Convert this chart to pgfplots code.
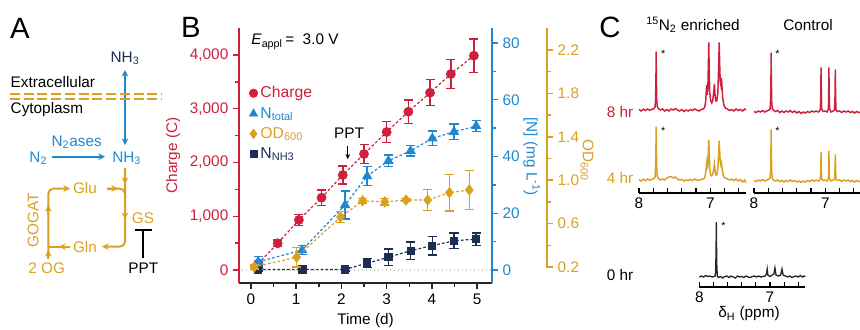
\documentclass[border=0pt]{standalone}
\usepackage{fontspec}
\setmainfont{Liberation Sans}
\usepackage{pgfplots}
\pgfplotsset{compat=1.18}
\usepackage{pgfplotstable}
\usetikzlibrary{arrows.meta}
\definecolor{cred}{HTML}{CE1F3C}
\definecolor{cblue}{HTML}{1E88D0}
\definecolor{corange}{HTML}{DBA020}
\definecolor{cnavy}{HTML}{1E2D52}

\pgfplotstableread{
t v e
0.16 120 40
0.59 497 62
1.06 930 100
1.56 1345 146
2.03 1767 170
2.50 2158 180
3.00 2567 195
3.48 2945 217
3.96 3298 242
4.42 3646 267
4.93 3987 312
}\charge
\pgfplotstableread{
t v e
0.16 2.9 1.8
1.13 7.0 1.6
2.08 22.9 4.9
2.57 33.1 3.3
3.04 38.5 2.0
3.53 42.0 1.8
4.01 46.4 2.6
4.49 48.7 2.7
4.98 50.7 1.9
}\ntotal
\pgfplotstableread{
t v e
0.16 0.2 0.5
1.14 0.2 0.5
2.08 0.2 0.5
2.57 2.4 1.6
3.04 4.5 2.9
3.53 6.8 3.1
4.01 8.6 3.3
4.49 10.3 2.7
4.98 10.9 2.2
}\nnh
\pgfplotstableread{
t v e
0.07 0.20 0.02
1.01 0.29 0.09
1.98 0.66 0.05
2.47 0.81 0.02
2.96 0.80 0.03
3.43 0.817 0.015
3.91 0.817 0.095
4.39 0.885 0.17
4.83 0.91 0.18
}\odsix

\pgfplotsset{
  every tick label/.append style={font=\fontsize{11.5}{13}\selectfont},
  every axis label/.append style={font=\fontsize{11.5}{13}\selectfont},
  spec/.style={scale only axis, width=80.25pt, xmin=6.5, xmax=8, x dir=reverse,
    ymin=0, axis x line*=bottom, axis y line=none,
    axis line style={-, line width=0.9pt},
    xtick={7,8}, minor xtick={6.6,6.8,7.2,7.4,7.6,7.8},
    tick align=inside, major tick length=3.5pt, minor tick length=3.5pt,
    tick style={black, line width=0.9pt}, clip=false,
    /pgf/number format/assume math mode=true},
  ser/.style={forget plot, line width=0.9pt, dash pattern=on 2pt off 1.6pt,
    mark options={solid},
    error bars/.cd, y dir=both, y explicit,
    error bar style={solid, line width=1.1pt},
    error mark options={rotate=90, solid, line width=1.1pt, mark size=3.4pt}},
}

\begin{document}
\begin{tikzpicture}[font=\fontsize{11.5}{13}\selectfont]
\path[use as bounding box] (0,0) rectangle (645pt,-246.75pt);

% ---------- Panel B: charge axis ----------
\begin{axis}[
  at={(179.25pt,-212.25pt)}, anchor=south west,
  scale only axis, width=189.75pt, height=191.25pt,
  xmin=-0.265, xmax=5.33, ymin=-242, ymax=4502,
  axis x line*=bottom, axis y line*=left,
  axis line style={-, line width=1.1pt},
  x axis line style={black!85},
  y axis line style={cred},
  xtick={0,1,2,3,4,5}, minor x tick num=1,
  ytick={0,1000,2000,3000,4000}, minor y tick num=1,
  scaled y ticks=false,
  tick align=outside, major tick length=4.5pt, minor tick length=3pt,
  x tick style={black!85, line width=1.1pt},
  y tick style={cred, line width=1.1pt},
  yticklabel style={cred},
  /pgf/number format/assume math mode=true,
  /pgf/number format/1000 sep={,},
  xlabel={Time (d)}, ylabel={Charge (C)},
  every axis x label/.style={at={(axis description cs:0.5,-0.149)}, anchor=center},
  every axis y label/.style={at={(axis description cs:-0.26,0.5)}, rotate=90, anchor=center, cred},
  legend style={draw=none, fill=none, at={(axis description cs:0.0395,0.782)}, anchor=north west,
    inner sep=0pt, row sep=1.5pt, font=\fontsize{11.8}{13}\selectfont},
  legend cell align=left,
  legend image code/.code={\draw[#1] plot coordinates {(0pt,0pt)};},
  clip=false,
]
\addlegendimage{only marks, mark=*, cred, mark size=3.2pt}
\addlegendentry{\textcolor{cred}{Charge}}
\addlegendimage{only marks, mark=triangle*, cblue, mark size=3.6pt}
\addlegendentry{\textcolor{cblue}{N\textsubscript{total}}}
\addlegendimage{only marks, mark=diamond*, corange, mark size=3.6pt}
\addlegendentry{\textcolor{corange}{OD\textsubscript{600}}}
\addlegendimage{only marks, mark=square*, cnavy, mark size=2.6pt}
\addlegendentry{\textcolor{cnavy}{N\textsubscript{NH3}}}
\addplot[forget plot, gray!40, dotted, line width=1pt] coordinates {(-0.2,0) (5.3,0)};
\addplot[cred, mark=*, mark size=3.2pt, ser] table[x=t, y=v, y error=e] {\charge};
\node[anchor=west] at (axis cs:-0.095,4247) {\textit{E}\textsubscript{appl}\,=\ \ 3.0 V};
\node at (axis cs:2.17,2549) {PPT};
\draw[-{Stealth[length=4pt,width=3.5pt]}, line width=0.7pt] (axis cs:2.14,2313) -- (axis cs:2.14,2060);
\end{axis}

% ---------- Panel B: N axis ----------
\begin{axis}[
  at={(179.25pt,-212.25pt)}, anchor=south west,
  scale only axis, width=189.75pt, height=191.25pt,
  xmin=-0.265, xmax=5.33, ymin=-4.58, ymax=85.29,
  axis x line=none, axis y line*=right,
  axis line style={-, line width=1.1pt, cblue},
  ytick={0,20,40,60,80}, minor y tick num=1,
  tick align=outside, major tick length=4.5pt, minor tick length=3pt,
  y tick style={cblue, line width=1.1pt},
  yticklabel style={cblue},
  /pgf/number format/assume math mode=true,
  ylabel={[N] (mg L\textsuperscript{-1})},
  every axis y label/.style={at={(axis description cs:1.157,0.495)}, rotate=-90, anchor=center, cblue},
  clip=false,
]
\addplot[cblue, mark=triangle*, mark size=3.6pt, ser] table[x=t, y=v, y error=e] {\ntotal};
\addplot[cnavy, mark=square*, mark size=2.6pt, ser] table[x=t, y=v, y error=e] {\nnh};
\end{axis}

% ---------- Panel B: OD axis ----------
\begin{axis}[
  at={(179.25pt,-201pt)}, anchor=south west,
  scale only axis, width=231pt, height=180pt,
  xmin=-0.265, xmax=6.549, ymin=0.1908, ymax=2.4028,
  axis x line=none, axis y line*=right,
  axis line style={-, line width=1.1pt, corange},
  ytick={0.2,0.6,1.0,1.4,1.8,2.2}, minor y tick num=1,
  tick align=outside, major tick length=4.5pt, minor tick length=3pt,
  y tick style={corange, line width=1.1pt},
  yticklabel style={corange, /pgf/number format/.cd, fixed, fixed zerofill, precision=1},
  /pgf/number format/assume math mode=true,
  ylabel={OD\textsubscript{600}},
  every axis y label/.style={at={(axis description cs:1.13,0.45)}, rotate=-90, anchor=center, corange},
  clip=false,
]
\addplot[corange, mark=diamond*, mark size=3.6pt, ser] table[x=t, y=v, y error=e] {\odsix};
\end{axis}

% ---------- Panel C: spectra ----------
\begin{axis}[spec, at={(479.25pt,-144.75pt)}, anchor=south west, height=120pt, ymax=160]
\addplot[cred, line width=1.1pt] coordinates {
(8.00,83.5)(7.97,82)(7.94,83.8)(7.91,82.5)(7.88,84)(7.85,82.8)(7.82,83.6)(7.79,84.5)(7.775,86)(7.767,95)(7.762,120)(7.76,141.3)(7.757,118)(7.752,94)(7.745,87)(7.73,84.5)(7.70,83)(7.67,84)(7.64,82)(7.61,83.5)(7.58,82)(7.55,84)(7.52,83)(7.49,84.5)(7.46,83)(7.43,82)(7.40,83.5)(7.37,81.5)(7.34,83)(7.31,82)(7.28,83.5)(7.25,82.5)(7.22,84)(7.19,83)(7.16,82)(7.13,83.5)(7.10,84)(7.08,85.5)(7.065,92)(7.055,104)(7.05,108)(7.043,98)(7.035,105)(7.027,130)(7.022,150.7)(7.017,128)(7.008,100)(6.995,92)(6.98,90)(6.965,93)(6.95,103)(6.943,109)(6.936,100)(6.925,92)(6.91,92)(6.895,100)(6.882,130)(6.876,150.7)(6.87,132)(6.862,112)(6.852,108)(6.845,114.7)(6.837,107)(6.825,94)(6.81,88)(6.79,85)(6.76,84)(6.73,82.5)(6.70,83.5)(6.67,82)(6.64,84)(6.61,82.5)(6.58,83.5)(6.55,82)(6.52,84)(6.50,83)};
\addplot[corange, line width=1.1pt] coordinates {
(8.00,13.5)(7.97,12)(7.94,13.8)(7.91,12.5)(7.88,14)(7.85,12.8)(7.82,13.6)(7.79,14.5)(7.775,16)(7.767,26)(7.762,50)(7.76,66.3)(7.757,48)(7.752,25)(7.745,17)(7.73,14.5)(7.70,13)(7.67,14)(7.64,13)(7.61,15)(7.58,16)(7.55,16.5)(7.52,15)(7.49,16)(7.46,14)(7.43,13)(7.40,13.5)(7.37,12)(7.34,13)(7.31,12.5)(7.28,13.5)(7.25,12.5)(7.22,14)(7.19,13)(7.16,12.5)(7.13,13.5)(7.10,14)(7.08,15)(7.065,20)(7.055,27)(7.05,30)(7.043,24)(7.035,30)(7.027,45)(7.022,53)(7.017,44)(7.008,24)(6.995,18)(6.98,17)(6.965,19)(6.95,25)(6.943,29)(6.936,24)(6.925,18)(6.91,18)(6.895,24)(6.882,42)(6.876,52.3)(6.87,44)(6.862,32)(6.852,28)(6.845,30)(6.837,26)(6.825,19)(6.81,16)(6.79,15)(6.76,14)(6.73,13)(6.70,14)(6.67,12.5)(6.64,14)(6.61,12)(6.58,13.5)(6.55,11)(6.52,13)(6.50,10)};
\node[font=\fontsize{8}{8}\selectfont] at (axis cs:7.66,139) {*};
\node[font=\fontsize{8}{8}\selectfont] at (axis cs:7.66,62) {*};
\end{axis}

\begin{axis}[spec, at={(565.5pt,-144.75pt)}, anchor=south west, height=120pt, ymax=160]
\addplot[cred, line width=1.1pt] coordinates {
(8.00,81.5)(7.97,80.5)(7.94,82)(7.91,81)(7.88,82.5)(7.85,81)(7.82,82)(7.79,83)(7.775,84)(7.767,94)(7.762,118)(7.76,140.3)(7.757,116)(7.752,92)(7.745,85)(7.73,83)(7.70,81.5)(7.67,82.5)(7.64,80.5)(7.61,82)(7.58,80.5)(7.55,82)(7.52,81)(7.49,82.5)(7.46,80.5)(7.43,82)(7.40,80)(7.37,81.5)(7.34,79.5)(7.31,81)(7.28,80)(7.25,81.5)(7.22,80.5)(7.19,82)(7.16,81)(7.13,82)(7.10,81)(7.08,82)(7.07,84)(7.064,98)(7.06,125.7)(7.056,97)(7.05,84)(7.03,81.5)(7.00,82)(6.975,81)(6.957,84)(6.953,100)(6.95,125.7)(6.946,98)(6.94,84)(6.92,81)(6.89,82)(6.87,83)(6.865,95)(6.86,123.7)(6.856,95)(6.85,83)(6.83,81.5)(6.80,82)(6.77,80.5)(6.74,82)(6.71,81)(6.68,82)(6.65,80.5)(6.62,81.5)(6.59,80)(6.56,81.5)(6.53,80.5)(6.50,81)};
\addplot[corange, line width=1.1pt] coordinates {
(8.00,12.5)(7.97,11.5)(7.94,13)(7.91,12)(7.88,13.5)(7.85,12)(7.82,13)(7.79,14)(7.775,15)(7.767,24)(7.762,46)(7.76,63.7)(7.757,44)(7.752,22)(7.745,15)(7.73,13)(7.70,12)(7.67,13)(7.64,11.5)(7.61,12.5)(7.58,11)(7.55,12.5)(7.52,11.5)(7.49,13)(7.46,11.5)(7.43,12.5)(7.40,11)(7.37,12)(7.34,10.5)(7.31,12)(7.28,11)(7.25,12.5)(7.22,11.5)(7.19,13)(7.16,12)(7.13,13)(7.10,12)(7.08,13)(7.07,14)(7.064,24)(7.06,41.3)(7.056,23)(7.05,14)(7.03,12.5)(7.00,13)(6.975,12)(6.957,14)(6.953,25)(6.95,42.3)(6.946,24)(6.94,14)(6.92,12)(6.89,13)(6.87,13.5)(6.865,22)(6.86,38.7)(6.856,22)(6.85,13.5)(6.83,12.5)(6.80,13)(6.77,11.5)(6.74,13)(6.71,12)(6.68,13)(6.65,11.5)(6.62,12.5)(6.59,11)(6.56,12.5)(6.53,11.5)(6.50,12)};
\node[font=\fontsize{8}{8}\selectfont] at (axis cs:7.67,139) {*};
\node[font=\fontsize{8}{8}\selectfont] at (axis cs:7.67,62) {*};
\end{axis}

\begin{axis}[spec, at={(524.5pt,-215.25pt)}, anchor=south west, width=79.5pt, height=52.5pt, ymax=70]
\addplot[black!85, line width=1pt] coordinates {
(8.00,10)(7.97,11)(7.94,10)(7.91,11.5)(7.88,10.5)(7.85,11)(7.82,10)(7.79,10.5)(7.775,11)(7.767,20)(7.762,45)(7.76,65)(7.757,44)(7.752,19)(7.745,11)(7.73,9.5)(7.70,10.5)(7.67,9)(7.64,10.5)(7.61,11)(7.58,9.5)(7.55,11)(7.52,10)(7.49,9)(7.46,11)(7.43,10)(7.40,10.5)(7.37,9.5)(7.34,11)(7.31,10)(7.28,9.5)(7.25,10.5)(7.22,11)(7.19,10)(7.16,11)(7.13,10)(7.10,10.5)(7.07,11)(7.05,13)(7.04,18)(7.03,12)(7.00,10.5)(6.97,12)(6.945,13)(6.93,19)(6.915,12)(6.88,11)(6.85,12)(6.83,18)(6.815,12)(6.78,11)(6.75,10)(6.72,11)(6.69,9.5)(6.66,10.5)(6.63,11)(6.60,10)(6.57,11.5)(6.54,10)(6.52,11)(6.50,10.5)};
\node[font=\fontsize{8}{8}\selectfont] at (axis cs:7.66,61) {*};
\end{axis}

% ---------- overlay: panel A and labels ----------
\begin{axis}[at={(0pt,-246.75pt)}, anchor=south west, scale only axis,
  width=645pt, height=246.75pt, xmin=0, xmax=860, ymin=0, ymax=329,
  y dir=reverse, hide axis, clip=false]
% panel letters
\node at (axis cs:20,28) {\fontsize{22}{22}\selectfont A};
\node at (axis cs:191,27) {\fontsize{22}{22}\selectfont B};
\node at (axis cs:610,27) {\fontsize{22}{22}\selectfont C};
% panel C labels
\node at (axis cs:693,25) {\textsuperscript{15}N\textsubscript{2} enriched};
\node at (axis cs:808,25) {Control};
\node[text=cred] at (axis cs:620,112) {8 hr};
\node[text=corange] at (axis cs:620,178) {4 hr};
\node at (axis cs:620,275) {0 hr};
\node at (axis cs:749,314) {δ\textsubscript{H} (ppm)};
% panel A
\node[text=cnavy] at (axis cs:125,58) {NH\textsubscript{3}};
\draw[cblue, line width=1.5pt, {Stealth[length=5pt,width=5pt]}-{Stealth[length=5pt,width=5pt]}] (axis cs:125,70) -- (axis cs:125,145);
\node[anchor=west] at (axis cs:6,82) {Extracellular};
\node[anchor=west] at (axis cs:6,109.5) {Cytoplasm};
\draw[corange, line width=1.7pt, dash pattern=on 7.5pt off 2.8pt] (axis cs:10,94.3) -- (axis cs:162,94.3);
\draw[corange, line width=1.7pt, dash pattern=on 7.5pt off 2.8pt] (axis cs:10,99.3) -- (axis cs:162,99.3);
\node[text=cblue] at (axis cs:76.7,142) {N\textsubscript{2}ases};
\node[text=cblue] at (axis cs:38.3,158.3) {N\textsubscript{2}};
\draw[cblue, line width=1.5pt, -{Stealth[length=5pt,width=5pt]}] (axis cs:52,156.7) -- (axis cs:105,156.7);
\node[text=cblue] at (axis cs:126.7,158.3) {NH\textsubscript{3}};
% orange cycle
\draw[corange, line width=1.5pt, rounded corners=4pt, -{Stealth[length=5pt,width=5pt]}] (axis cs:125,168) -- (axis cs:125,246.7) -- (axis cs:102,246.7);
\draw[corange, line width=1.5pt, -{Stealth[length=5pt,width=5pt]}] (axis cs:125,170) -- (axis cs:125,184);
\draw[corange, line width=1.5pt, -{Stealth[length=5pt,width=5pt]}] (axis cs:125,205) -- (axis cs:125,219);
\draw[corange, line width=1.5pt, rounded corners=4pt] (axis cs:107,188.5) -- (axis cs:125,188.5) -- (axis cs:125,198);
\draw[corange, line width=1.5pt, -{Stealth[length=5pt,width=5pt]}] (axis cs:107,188.5) -- (axis cs:118,188.5);
\draw[corange, line width=1.5pt, rounded corners=4pt, -{Stealth[length=5pt,width=5pt]}] (axis cs:48.3,258) -- (axis cs:48.3,188.5) -- (axis cs:70,188.5);
\draw[corange, line width=1.5pt, -{Stealth[length=5pt,width=5pt]}] (axis cs:48.3,215) -- (axis cs:48.3,205);
\draw[corange, line width=1.5pt, -{Stealth[length=5pt,width=5pt]}] (axis cs:48.3,259) -- (axis cs:48.3,250);
\draw[corange, line width=1.5pt] (axis cs:70,246.7) -- (axis cs:48.3,246.7);
\draw[corange, line width=1.5pt, -{Stealth[length=5pt,width=5pt]}] (axis cs:70,246.7) -- (axis cs:59,246.7);
\node[text=corange] at (axis cs:85,188) {Glu};
\node[text=corange] at (axis cs:85,247) {Gln};
\node[text=corange] at (axis cs:143,218) {GS};
\node[text=corange] at (axis cs:46.7,268.5) {2 OG};
\node[text=corange, rotate=90] at (axis cs:33,220) {GOGAT};
% inhibition
\draw[black, line width=1.6pt] (axis cs:135,230) -- (axis cs:152,230);
\draw[black, line width=1.6pt] (axis cs:143.3,230) -- (axis cs:143.3,258);
\node at (axis cs:143.3,268.5) {PPT};
\end{axis}
\end{tikzpicture}
\end{document}
